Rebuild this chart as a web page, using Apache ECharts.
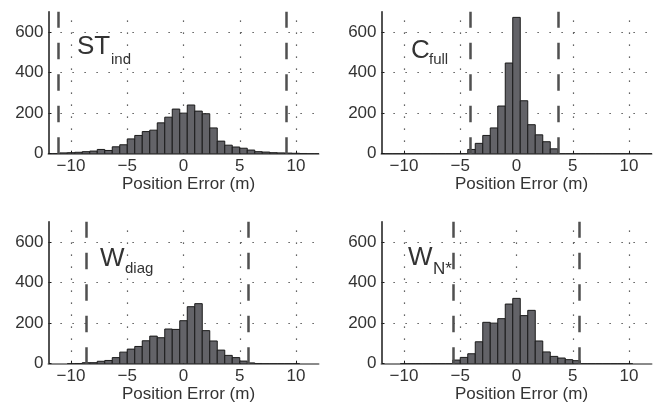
<!DOCTYPE html>
<html>
<head>
<meta charset="utf-8">
<script src="https://cdn.jsdelivr.net/npm/echarts@6/dist/echarts.min.js"></script>
<style>
  html, body { margin: 0; padding: 0; background: #ffffff; }
  #chart { width: 653px; height: 406px; }
</style>
</head>
<body>
<div id="chart"></div>
<script>
// Histogram bins: centres from -12 to 12 m, 2/3 m wide
const binWidth = 2 / 3;
const binStart = -12;

// Counts per bin (null = no bin drawn)
const countsSTind = [0, 1, 4, 5, 7, 10, 13, 21, 16, 34, 44, 73, 90, 109, 116, 152, 180, 220, 200,
  240, 210, 197, 127, 62, 42, 33, 27, 18, 10, 8, 5, 4, 3, 2, 1, 0, 0];
const countsCfull = [0, 0, 0, 0, 0, 0, 0, 0, 0, 0, 0, 0, 21, 51, 90, 127, 235, 447, 672,
  261, 143, 93, 59, 24, 0, 0, 0, 0, 0, 0, 0, 0, 0, 0, 0, 0, 0];
const countsWdiag = [null, null, null, 0, 1, 5, 5, 12, 16, 30, 57, 72, 85, 113, 136, 128, 171, 169, 212,
  281, 296, 163, 112, 67, 41, 30, 13, 4, 1, 0, 0, 0, 0, 0, null, null, null];
const countsWN = [null, null, null, 0, 0, 0, 0, 0, 0, 0, 18, 31, 49, 108, 204, 200, 222, 294, 322,
  237, 263, 112, 58, 36, 28, 20, 15, 0, 0, 0, 0, 0, 0, 0, null, null, null];

// Error bounds (m) shown as dashed verticals
const boundsSTind = [-11.1, 9.1];
const boundsCfull = [-4.15, 3.67];
const boundsWdiag = [-8.67, 5.77];
const boundsWN = [-5.65, 5.6];

// Panel labels: main letters and subscript
const labelSTind = ['ST', 'ind'];
const labelCfull = ['C', 'full'];
const labelWdiag = ['W', 'diag'];
const labelWN = ['W', 'N*'];

// Axis ticks
const xTicks = [-10, -5, 0, 5, 10];
const yTicks = [0, 200, 400, 600];
const yGridValues = [200, 400, 600];
const xRange = [-12, 12];
const yRange = [0, 700];
const xTitle = 'Position Error (m)';

const FONT = 'Liberation Sans, Arial, Helvetica, sans-serif';
const TEXT = '#333333';

const panels = [
  { counts: countsSTind, bounds: boundsSTind, label: labelSTind,
    grid: { left: 48.5, top: 11.7, width: 270, height: 142 }, nameGap: 19.5,
    main: { x: 77, y: 47 }, sub: { x: 111, y: 59.8, size: 15 } },
  { counts: countsCfull, bounds: boundsCfull, label: labelCfull,
    grid: { left: 381.5, top: 11.7, width: 270, height: 142 }, nameGap: 19.5,
    main: { x: 411, y: 51 }, sub: { x: 429, y: 59.8, size: 15 } },
  { counts: countsWdiag, bounds: boundsWdiag, label: labelWdiag,
    grid: { left: 48.5, top: 221.7, width: 270, height: 142 }, nameGap: 14,
    main: { x: 100, y: 259 }, sub: { x: 125, y: 268.8, size: 15 } },
  { counts: countsWN, bounds: boundsWN, label: labelWN,
    grid: { left: 381.5, top: 221.7, width: 270, height: 142 }, nameGap: 14,
    main: { x: 408, y: 258 }, sub: { x: 433, y: 269, size: 17 } }
];

function histData(counts) {
  const out = [];
  counts.forEach(function (v, i) {
    if (v !== null) out.push([binStart + i * binWidth, v]);
  });
  return out;
}

function renderBin(params, api) {
  const c = api.value(0);
  const v = api.value(1);
  const tl = api.coord([c - binWidth / 2, v]);
  const br = api.coord([c + binWidth / 2, 0]);
  return {
    type: 'rect',
    shape: { x: tl[0], y: tl[1], width: br[0] - tl[0], height: br[1] - tl[1] },
    style: { fill: '#636368', stroke: '#1a1a1a', lineWidth: 1 }
  };
}

const grids = [], xAxes = [], yAxes = [], series = [], graphics = [];

panels.forEach(function (p, i) {
  grids.push(Object.assign({ containLabel: false }, p.grid));

  xAxes.push({
    type: 'value', gridIndex: i, min: xRange[0], max: xRange[1],
    name: xTitle, nameLocation: 'middle', nameGap: p.nameGap,
    nameTextStyle: { fontFamily: FONT, fontSize: 17, color: TEXT, padding: [0, 0, 0, 10] },
    axisLine: { show: true, onZero: false, lineStyle: { color: '#8a8a8a', width: 2 } },
    axisTick: { show: true, inside: true, length: 3, customValues: xTicks,
      lineStyle: { color: '#1a1a1a', width: 1 } },
    axisLabel: { show: true, customValues: xTicks, margin: 4,
      fontFamily: FONT, fontSize: 17, color: TEXT,
      formatter: function (v) { return String(v).replace('-', '\u2212'); } },
    splitLine: { show: false }
  });

  yAxes.push({
    type: 'value', gridIndex: i, min: yRange[0], max: yRange[1],
    axisLine: { show: true, onZero: false, lineStyle: { color: '#1a1a1a', width: 1.5 } },
    axisTick: { show: true, inside: true, length: 3, customValues: yTicks,
      lineStyle: { color: '#1a1a1a', width: 1 } },
    axisLabel: { show: true, customValues: yTicks, margin: 5,
      fontFamily: FONT, fontSize: 17, color: TEXT },
    splitLine: { show: false }
  });

  // dotted grid
  series.push({
    type: 'line', xAxisIndex: i, yAxisIndex: i, data: [], silent: true,
    markLine: {
      silent: true, symbol: ['none', 'none'], animation: false, z: 1,
      label: { show: false },
      lineStyle: { type: [1.2, 10.8], color: '#333333', width: 1.2 },
      data: xTicks.map(function (v) { return { xAxis: v }; })
        .concat(yGridValues.map(function (v) { return { yAxis: v }; }))
    }
  });

  // histogram bars
  series.push({
    type: 'custom', xAxisIndex: i, yAxisIndex: i, z: 2, clip: true,
    encode: { x: 0, y: 1 },
    renderItem: renderBin,
    data: histData(p.counts)
  });

  // dashed bounds
  series.push({
    type: 'line', xAxisIndex: i, yAxisIndex: i, data: [], silent: true,
    markLine: {
      silent: true, symbol: ['none', 'none'], animation: false, z: 10,
      label: { show: false },
      lineStyle: { type: [16.5, 15], color: '#505050', width: 2.5 },
      data: p.bounds.map(function (v) { return { xAxis: v }; })
    }
  });

  graphics.push({
    type: 'text', x: p.main.x, y: p.main.y, z: 20,
    style: { text: p.label[0], font: '26px ' + FONT, fill: TEXT, align: 'left', verticalAlign: 'middle' }
  });
  graphics.push({
    type: 'text', x: p.sub.x, y: p.sub.y, z: 20,
    style: { text: p.label[1], font: p.sub.size + 'px ' + FONT, fill: TEXT, align: 'left', verticalAlign: 'middle' }
  });
});

const chart = echarts.init(document.getElementById('chart'), null, { renderer: 'canvas' });
chart.setOption({
  animation: false,
  backgroundColor: '#ffffff',
  grid: grids,
  xAxis: xAxes,
  yAxis: yAxes,
  series: series,
  graphic: graphics
});
</script>
</body>
</html>
